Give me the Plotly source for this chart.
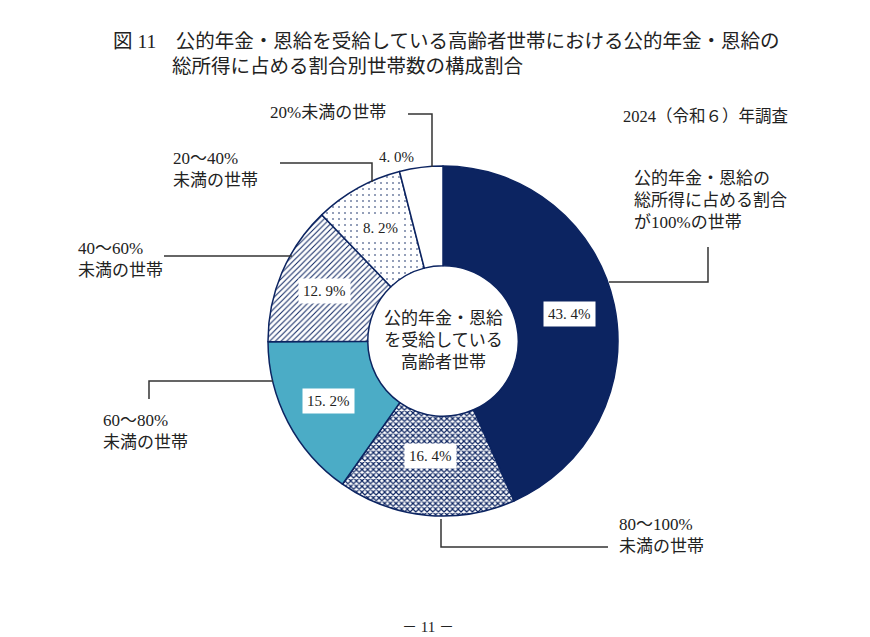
import math
import plotly.graph_objects as go

# ---- data ----
categories = ["公的年金・恩給の総所得に占める割合が100%の世帯", "80～100%未満の世帯", "60～80%未満の世帯",
              "40～60%未満の世帯", "20～40%未満の世帯", "20%未満の世帯"]
values = [43.4, 16.4, 15.2, 12.9, 8.2, 4.0]

W, H = 870, 637
CX, CY, R = 443, 341, 175
NAVY = "#0c2461"
LBLUE = "#4bacc6"
FONT = "Liberation Serif, Noto Sans CJK JP, serif"
TXT = "#222222"

def px(x):
    return x / W

def py(y):
    return 1 - y / H

fig = go.Figure()
fig.add_trace(go.Pie(
    values=values, labels=categories, sort=False, direction="clockwise", rotation=0,
    hole=0.43, textinfo="none", hoverinfo="skip", showlegend=False,
    domain=dict(x=[px(CX - R), px(CX + R)], y=[py(CY + R), py(CY - R)]),
    marker=dict(
        colors=[NAVY, "white", LBLUE, "white", "white", "white"],
        line=dict(color=NAVY, width=1.5),
        pattern=dict(
            shape=["", "x", "", "/", ".", ""],
            fgcolor=[NAVY, NAVY, LBLUE, NAVY, NAVY, "white"],
            bgcolor=[NAVY, "white", LBLUE, "white", "white", "white"],
            size=[6, 4, 6, 4, 6, 6],
            solidity=[0.5, 0.5, 0.5, 0.25, 0.06, 0.5],
            fillmode="replace",
        ),
    ),
))

anns = []
# percent labels, positioned from the cumulative angles
cum = 0.0
total = sum(values)
for i, v in enumerate(values):
    mid = (cum + v / 2) / total * 2 * math.pi
    cum += v
    txt = f"{v:.1f}%".replace(".", ". ")
    if i == len(values) - 1:
        rr = 196
        x = CX + rr * math.sin(mid) - 22
        y = CY - rr * math.cos(mid)
        anns.append(dict(x=px(x), y=py(y), xref="paper", yref="paper", text=txt, showarrow=False,
                         font=dict(family=FONT, size=15, color=TXT)))
    else:
        rr = 129
        x = CX + rr * math.sin(mid)
        y = CY - rr * math.cos(mid)
        anns.append(dict(x=px(x), y=py(y), xref="paper", yref="paper", text=txt, showarrow=False,
                         font=dict(family=FONT, size=15, color=TXT), bgcolor="white", borderpad=4))

def lab(x, y, text, anchor="left", align="left", size=17):
    anns.append(dict(x=px(x), y=py(y), xref="paper", yref="paper", text=text, showarrow=False,
                     xanchor=anchor, yanchor="middle", align=align,
                     font=dict(family=FONT, size=size, color=TXT)))

# title
lab(111, 42, "図 11　公的年金・恩給を受給している高齢者世帯における公的年金・恩給の", size=19.5)
lab(170, 66, "総所得に占める割合別世帯数の構成割合", size=19.5)
lab(621, 117, "2024（令和６）年調査", size=16.5)

# centre text
lab(CX, CY, "公的年金・恩給<br>を受給している<br>高齢者世帯", anchor="center", align="center")

# category labels
lab(268, 112, "20%未満の世帯")
lab(171, 169, "20～40%<br>未満の世帯")
lab(76, 259, "40～60%<br>未満の世帯")
lab(101, 431, "60～80%<br>未満の世帯")
lab(617, 535, "80～100%<br>未満の世帯")
lab(632, 200, "公的年金・恩給の<br>総所得に占める割合<br>が100%の世帯")

# page number
lab(428, 627, "－ 11 －", anchor="center", align="center", size=15)

# leader lines
leaders = [
    [(408, 114), (432, 114), (432, 167)],
    [(280, 163), (372, 163), (372, 182)],
    [(164, 256), (292, 256)],
    [(149, 399), (149, 381), (273, 381)],
    [(441, 519), (441, 547), (608, 547)],
    [(708, 247), (708, 282), (609, 282)],
]
shapes = []
for pts in leaders:
    d = "M " + " L ".join(f"{px(x):.5f},{py(y):.5f}" for x, y in pts)
    shapes.append(dict(type="path", path=d, xref="paper", yref="paper",
                       line=dict(color="#333333", width=1.5)))

fig.update_layout(
    width=W, height=H, margin=dict(l=0, r=0, t=0, b=0),
    paper_bgcolor="white", plot_bgcolor="white",
    annotations=anns, shapes=shapes,
)
fig.write_html("out.html", config={"displayModeBar": False},
               post_script="document.body.style.margin='0';document.body.style.overflow='hidden';")
